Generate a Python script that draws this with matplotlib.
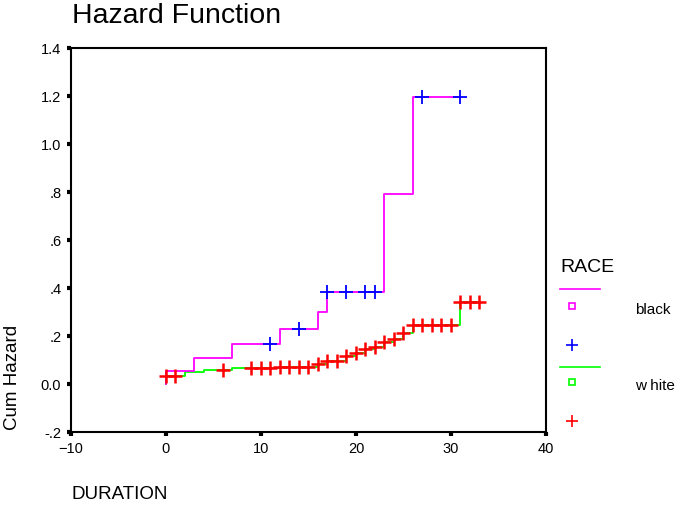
import matplotlib
matplotlib.use("Agg")
import matplotlib.pyplot as plt
from matplotlib.lines import Line2D

plt.rcParams["font.family"] = ["Liberation Sans", "DejaVu Sans"]

# cumulative hazard step functions
black_times = [0, 0, 3, 7, 12, 16, 17, 23, 26, 31]
black_haz = [0.0, 0.055, 0.107, 0.165, 0.230, 0.301, 0.383, 0.790, 1.195, 1.195]
black_cens_t = [11, 14, 17, 19, 21, 22, 27, 31]
black_cens_h = [0.165, 0.230, 0.383, 0.383, 0.383, 0.383, 1.195, 1.195]

white_times = [0, 0, 2, 4, 7, 12, 16, 17, 19, 20, 21, 22, 23, 24, 25, 26, 31, 33]
white_haz = [0.0, 0.035, 0.050, 0.058, 0.065, 0.072, 0.083, 0.095, 0.117, 0.130,
             0.144, 0.155, 0.174, 0.189, 0.211, 0.246, 0.340, 0.340]
white_cens_t = [0, 1, 6, 9, 10, 11, 12, 13, 14, 15, 16, 17, 18, 19, 20, 21, 22,
                23, 24, 25, 26, 27, 28, 29, 30, 31, 32, 33]
white_cens_h = [0.035, 0.035, 0.058, 0.065, 0.065, 0.065, 0.072, 0.072, 0.072, 0.072,
                0.083, 0.095, 0.095, 0.117, 0.130, 0.144, 0.155, 0.174, 0.189, 0.211,
                0.246, 0.246, 0.246, 0.246, 0.246, 0.340, 0.340, 0.340]

xticks = [-10, 0, 10, 20, 30, 40]
yticks = [-0.2, 0.0, 0.2, 0.4, 0.6, 0.8, 1.0, 1.2, 1.4]
ytick_labels = ["-.2", "0.0", ".2", ".4", ".6", ".8", "1.0", "1.2", "1.4"]

fig = plt.figure(figsize=(6.78, 5.07), dpi=100)
ax = fig.add_axes([0.1047, 0.1479, 0.7006, 0.7574])

ax.step(white_times, white_haz, where="post", color="#00ff00", lw=1.3, zorder=2)
ax.step(black_times, black_haz, where="post", color="#ff00ff", lw=1.3, zorder=2)
ax.plot(black_cens_t, black_cens_h, ls="none", marker="+", ms=10, mew=1.3,
        color="#0000ff", zorder=3)
ax.plot(white_cens_t, white_cens_h, ls="none", marker="+", ms=9.5, mew=1.8,
        color="#ff0000", zorder=3)

ax.set_xlim(-10, 40)
ax.set_ylim(-0.2, 1.4)
ax.set_xticks(xticks)
ax.set_yticks(yticks)
ax.set_yticklabels(ytick_labels)
ax.tick_params(direction="out", length=3, width=3, labelsize=10.5, pad=4)
for s in ax.spines.values():
    s.set_linewidth(1.5)
    s.set_color("black")

fig.text(0.106, 0.968, "Hazard Function", fontsize=20.5, ha="left", va="center")
fig.text(0.019, 0.255, "Cum Hazard", fontsize=13.5, rotation=90, ha="center", va="center")
fig.text(0.106, 0.024, "DURATION", fontsize=13.5, ha="left", va="center")

# legend block on the right
fig.text(0.826, 0.472, "RACE", fontsize=14, ha="left", va="center")
fig.add_artist(Line2D([0.826, 0.885], [0.430, 0.430], color="#ff00ff", lw=1.2,
                      transform=fig.transFigure))
fig.add_artist(Line2D([0.844], [0.396], ls="none", marker="s", ms=4.5, mfc="white",
                      mec="#ff00ff", mew=1.2, transform=fig.transFigure))
fig.text(0.937, 0.389, "black", fontsize=11, ha="left", va="center")
fig.add_artist(Line2D([0.844], [0.320], ls="none", marker="+", ms=9, mew=1.2,
                      color="#0000ff", transform=fig.transFigure))
fig.add_artist(Line2D([0.826, 0.885], [0.276, 0.276], color="#00ff00", lw=1.2,
                      transform=fig.transFigure))
fig.add_artist(Line2D([0.844], [0.247], ls="none", marker="s", ms=4.5, mfc="white",
                      mec="#00ff00", mew=1.2, transform=fig.transFigure))
fig.text(0.937, 0.238, "w hite", fontsize=11, ha="left", va="center")
fig.add_artist(Line2D([0.844], [0.170], ls="none", marker="+", ms=9, mew=1.2,
                      color="#ff0000", transform=fig.transFigure))

fig.savefig("out.png", dpi=100)
